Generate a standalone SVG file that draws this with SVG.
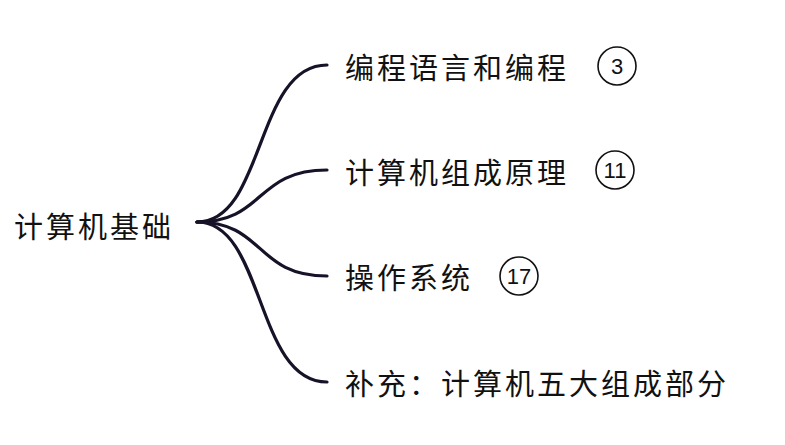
<svg xmlns="http://www.w3.org/2000/svg" width="785" height="445" viewBox="0 0 785 445">
<style>
.t{font-family:"Noto Sans CJK SC","Noto Sans",sans-serif;font-size:29px;letter-spacing:3px;fill:#111}
.c{fill:none;stroke:#111;stroke-width:1.6}
.n{font-family:"Liberation Sans",sans-serif;font-size:22px;fill:#111;text-anchor:middle}
.e{fill:none;stroke:#171228;stroke-width:3.2;stroke-linecap:round}
</style>
<rect width="785" height="445" fill="#fff"/>
<g id="connectors">
<path class="e" d="M197,222 C265,222 255,65 327,65"/>
<path class="e" d="M197,222 C265,222 255,170 327,170"/>
<path class="e" d="M197,222 C265,222 255,276 327,276"/>
<path class="e" d="M197,222 C265,222 255,382 327,382"/>
</g>
<g id="root"><text class="t" x="14" y="238">计算机基础</text></g>
<g id="n1"><text class="t" x="345" y="79">编程语言和编程</text><circle class="c" cx="617" cy="66" r="19"/><text class="n" x="617" y="74">3</text></g>
<g id="n2"><text class="t" x="345" y="184">计算机组成原理</text><circle class="c" cx="615" cy="170" r="19"/><text class="n" x="615" y="178">11</text></g>
<g id="n3"><text class="t" x="345" y="289">操作系统</text><circle class="c" cx="519" cy="276" r="19"/><text class="n" x="519" y="284">17</text></g>
<g id="n4"><text class="t" x="345" y="395">补充：计算机五大组成部分</text></g>
</svg>
